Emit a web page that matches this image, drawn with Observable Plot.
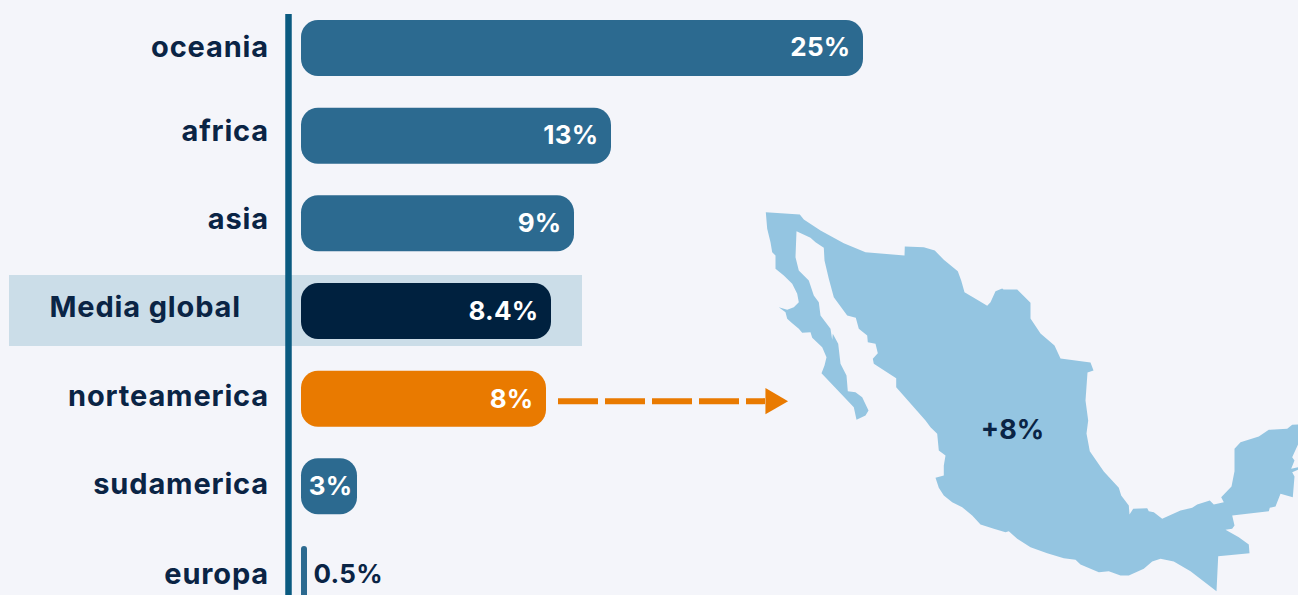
<!DOCTYPE html>
<html>
<head>
<meta charset="utf-8">
<script src="https://cdn.jsdelivr.net/npm/d3@7"></script>
<script src="https://cdn.jsdelivr.net/npm/@observablehq/plot@0.6"></script>
<style>
html,body{margin:0;padding:0;background:#f4f5fa;overflow:hidden}
#wrap{position:relative;width:1298px;height:595px}
#wrap svg{position:absolute;left:0;top:0;background:transparent;display:block}
.cat-label text{letter-spacing:.85px}
.val-label text{letter-spacing:.25px}
</style>
</head>
<body>
<div id="wrap"></div>
<script>
const categories = ["oceania","africa","asia","Media global","norteamerica","sudamerica","europa"];
const values = [25,13,9,8.4,8,3,0.5];
const valueLabels = ["25%","13%","9%","8.4%","8%","3%","0.5%"];
const highlightCategory = "Media global";
const destinationCategory = "norteamerica";
const mapLabel = "+8%";
const mexicoOutline = [[765.3,211.7],[799.3,214],[803.3,219],[820,230],[843.3,242.7],[865,251.7],[904,255],[904.3,246],[923.3,246.7],[934.3,250],[943.3,259.3],[957.3,270.7],[960.7,280],[964,291.7],[976.7,299.3],[986.7,305.3],[990,301.7],[995,290.7],[1001.7,288],[1003,289],[1016.7,289],[1030,302.3],[1030,318],[1040,333],[1054,345],[1060,358],[1090,362],[1093,370],[1087,372],[1085,400],[1087.7,420],[1086,433],[1089.3,450.7],[1103.3,471],[1118.3,487.3],[1120.7,495],[1128.3,505],[1129,514],[1132.7,508.3],[1146.7,507.7],[1148.3,510.7],[1153.3,511.7],[1161.7,518.3],[1180,510],[1191.7,507.3],[1196.7,504],[1209.3,500],[1213.3,504],[1223.3,501.7],[1220.7,496.7],[1231,486],[1234,470.7],[1234,448.3],[1240,441.7],[1258.3,436],[1268.3,429.3],[1286.7,428.3],[1291.7,424.3],[1298,424],[1298,443],[1291.7,456.7],[1294,460],[1290.7,468.3],[1298,466.7],[1298,469],[1291.7,471.7],[1294,476],[1292.3,496.7],[1280,493.3],[1275,506],[1269.3,507.3],[1268.3,510.7],[1231.7,515],[1234,525],[1231.7,528.3],[1225,529.3],[1238.3,536.7],[1248.3,544],[1249,552.7],[1217.7,555.7],[1216,590.7],[1190,570.7],[1173.3,561],[1160,558.3],[1151.7,561],[1143.3,568.3],[1128.3,575],[1120,575],[1108.3,570.7],[1098.3,571.7],[1080,564],[1075,559.3],[1063.3,557.7],[1046.7,552.7],[1030,546.7],[1016.7,538.3],[1008.3,530.7],[1005,531.7],[993.3,528.3],[980,524],[971.7,515],[961.7,506.7],[951.7,501.7],[943.3,495],[938.3,487.3],[935,477.3],[943.3,475],[943.3,465],[945,455],[938.3,450],[936.7,433.3],[930,426.7],[925,420],[895.7,386.7],[895.7,377.7],[873.3,363.3],[872.3,358.3],[877.3,352.7],[875,343.3],[867.3,341.7],[866.7,335],[858.3,328.3],[855.3,317.3],[846.7,315],[833.3,296.7],[828.3,278.3],[824,260],[823.3,247.3],[815,241.7],[810,237.3],[796,230.7],[795,256.7],[798.3,270],[808.3,280],[813.3,295],[818.3,301.7],[820,315],[830,328.3],[831.7,339.3],[832.3,333.3],[837.7,343.3],[840,363.3],[846,375],[847.3,390.7],[855,391.7],[861.7,396.7],[868,410],[865,415],[856,419.3],[853.3,406.7],[821,372.7],[824,365],[826,356.7],[821.7,346.7],[811.7,337.3],[810,331.7],[801.7,332.3],[798.3,328.3],[791.7,322.7],[786.7,318.3],[785,311.7],[778.3,306.7],[786.7,309.3],[793.3,306.7],[798.3,301.7],[796.7,293.3],[791.7,283.3],[783.3,275],[775,268.3],[775,255],[771.7,251.7],[770,241.7],[766.7,228.3],[765.3,211.7]];
const mapLabelAt = [[1012,430]];

const rows = categories.map((category,i)=>({category,value:values[i],label:valueLabels[i]}));
const font = "Inter, 'Open Sans', sans-serif";
const ink = "#0a2445", barBlue = "#2c6a90", navy = "#00213f", orange = "#e97a00";
const fillFor = d => d.category===highlightCategory ? navy : d.category===destinationCategory ? orange : barBlue;

// vertical nudges of the row texts in the original layout
const categoryDy = [-1,-4,-4,-4,-2,-2,0];
const valueDy = [-1,-1,0,0,1,0,0];
const valueDx = [-13,-13,-13,-13,-13,-5,6];

const chart = Plot.plot({
  width:1298, height:595, margin:0, marginTop:14, marginBottom:0,
  style:{background:"transparent",fontFamily:font},
  x:{type:"linear",domain:[0,0.5,3,8,8.4,9,13,25],range:[301,307,357,546,551,574,611,863],axis:null},
  y:{type:"band",domain:categories,range:[20,602],paddingInner:0.361,paddingOuter:0,round:false,axis:null},
  marks:[
    Plot.barX(rows.filter(d=>d.category===highlightCategory),{x1:0,x2:"value",y:"category",fill:"#cbdde8",insetLeft:-292,insetRight:-31,insetTop:-8,insetBottom:-7}),
    Plot.ruleX([0],{dx:-13,stroke:"#0a5a80",strokeWidth:6.5}),
    Plot.barX(rows.filter(d=>d.value>=1),{x1:0,x2:"value",y:"category",fill:fillFor,rx:17}),
    Plot.barX(rows.filter(d=>d.value<1),{x1:0,x2:"value",y:"category",fill:fillFor,rx:3}),
    ...rows.map((d,i)=>Plot.text([d],{x:0,y:"category",text:"category",textAnchor:"end",dx:d.category===highlightCategory?-60.5:-32.5,dy:categoryDy[i],fill:ink,fontSize:29,fontWeight:700,className:"cat-label"})),
    ...rows.map((d,i)=>Plot.text([d],{x:"value",y:"category",text:"label",textAnchor:valueDx[i]>0?"start":"end",dx:valueDx[i],dy:valueDy[i],fill:valueDx[i]>0?ink:"#fff",fontSize:26,fontWeight:700,className:"val-label"})),
    Plot.ruleY([destinationCategory],{x1:8,x2:25,insetLeft:12,insetRight:98,dy:2,stroke:orange,strokeWidth:6,strokeDasharray:"40 7"}),
    Plot.dot([destinationCategory],{x:()=>25,y:d=>d,dx:-90.5,dy:2,symbol:"triangle",rotate:90,r:9.7,fill:orange,stroke:"none"})
  ]
});

const map = Plot.plot({
  width:1298, height:595, margin:0,
  style:{background:"transparent",fontFamily:font},
  projection:"identity",
  marks:[
    Plot.geo([{type:"Polygon",coordinates:[mexicoOutline]}],{fill:"#94c5e1",stroke:"none"}),
    Plot.text(mapLabelAt,{x:d=>d[0],y:d=>d[1],text:()=>mapLabel,fill:ink,fontSize:27,fontWeight:700})
  ]
});

document.getElementById("wrap").append(chart,map);
</script>
</body>
</html>
